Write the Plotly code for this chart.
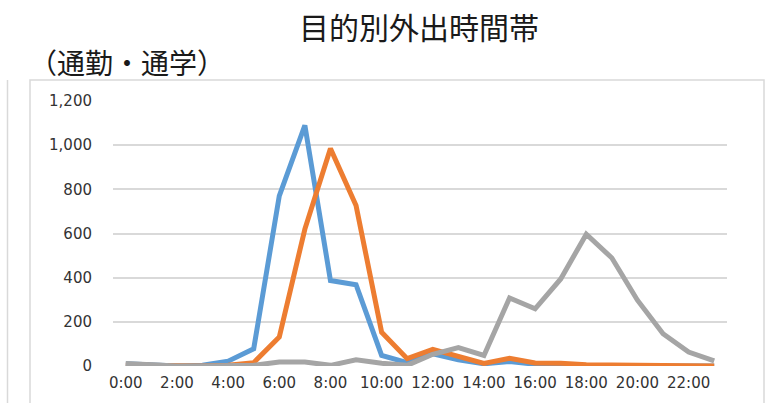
import plotly.graph_objects as go

# ---- data ----
hours = ["0:00", "1:00", "2:00", "3:00", "4:00", "5:00", "6:00", "7:00",
         "8:00", "9:00", "10:00", "11:00", "12:00", "13:00", "14:00", "15:00",
         "16:00", "17:00", "18:00", "19:00", "20:00", "21:00", "22:00", "23:00"]
tick_labels = ["0:00", "2:00", "4:00", "6:00", "8:00", "10:00",
               "12:00", "14:00", "16:00", "18:00", "20:00", "22:00"]
series_a = [10, 5, 0, 3, 22, 78, 770, 1090, 387, 368, 48, 15,
            55, 28, 10, 20, 8, 3, 0, 0, 0, 0, 0, 0]
series_b = [5, 3, 0, 0, 3, 15, 131, 620, 985, 727, 153, 33,
            75, 41, 12, 35, 14, 13, 6, 5, 5, 5, 5, 0]
series_c = [11, 5, 0, 0, 0, 3, 18, 18, 3, 28, 12, 3,
            53, 83, 48, 308, 259, 394, 597, 489, 298, 146, 63, 23]
y_ticks = [0, 200, 400, 600, 800, 1000, 1200]
y_tick_text = ["0", "200", "400", "600", "800", "1,000", "1,200"]

title_text = "目的別外出時間帯"
subtitle_text = "（通勤・通学）"

colors = ["#5B9BD5", "#ED7D31", "#A5A5A5"]

W, H = 780, 403
L, R, T, B = 113, 53, 101, 36.5
pw, ph = W - L - R, H - T - B

def px(x):
    return (x - L) / pw

def py(y):
    return (H - B - y) / ph

fig = go.Figure()
for vals, c, name in zip([series_a, series_b, series_c], colors, ["A", "B", "C"]):
    fig.add_trace(go.Scatter(x=hours, y=vals, mode="lines", name=name,
                             line=dict(color=c, width=5), showlegend=False,
                             hoverinfo="skip"))

tick_font = dict(family="DejaVu Sans, Arial, sans-serif", size=15, color="#333333")

fig.update_layout(
    width=W, height=H,
    margin=dict(l=L, r=R, t=T, b=B, pad=0),
    paper_bgcolor="white", plot_bgcolor="white",
    xaxis=dict(type="category", categoryorder="array", categoryarray=hours,
               tickmode="array", tickvals=tick_labels, ticktext=tick_labels,
               showgrid=False, zeroline=False, showline=False, ticks="",
               tickfont=tick_font, ticklabelstandoff=6, fixedrange=True,
               range=[-0.5, 23.5]),
    yaxis=dict(range=[0, 1200], tickmode="array", tickvals=y_ticks,
               ticktext=y_tick_text, showgrid=True, gridcolor="#D9D9D9",
               gridwidth=1.5, zeroline=False, showline=False, ticks="",
               tickfont=tick_font, ticklabelstandoff=20, fixedrange=True),
    shapes=[
        dict(type="rect", xref="paper", yref="paper",
             x0=px(30), x1=px(764), y0=py(420), y1=py(80),
             line=dict(color="#D9D9D9", width=1.5), layer="below"),
        dict(type="line", xref="paper", yref="paper",
             x0=px(7.5), x1=px(7.5), y0=py(420), y1=py(80),
             line=dict(color="#D9D9D9", width=1.5), layer="below"),
    ],
    annotations=[
        dict(text=title_text, xref="paper", yref="paper", x=px(419), y=py(26),
             xanchor="center", yanchor="middle", showarrow=False,
             font=dict(family="Noto Sans CJK JP", size=30, color="#1a1a1a")),
        dict(text=subtitle_text, xref="paper", yref="paper", x=px(27), y=py(62),
             xanchor="left", yanchor="middle", showarrow=False,
             font=dict(family="Noto Sans CJK JP", size=28, color="#1a1a1a")),
    ],
)

fig.write_html("out.html", config={"displayModeBar": False},
               post_script="document.body.style.margin='0';document.body.style.overflow='hidden';")
